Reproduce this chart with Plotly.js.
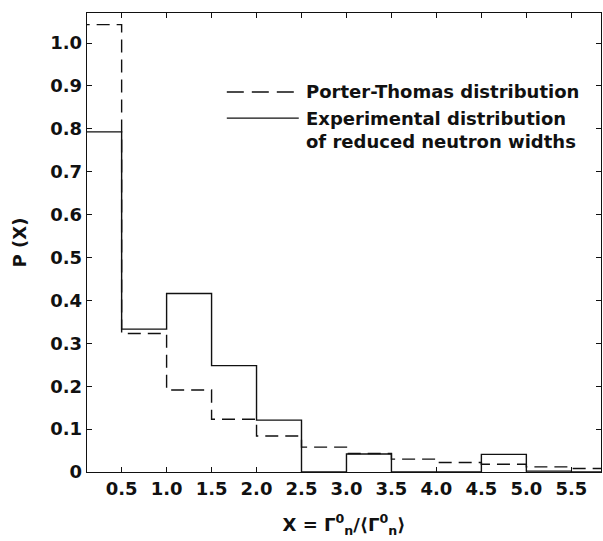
<!DOCTYPE html>
<html>
<head>
<meta charset="utf-8">
<script src="https://cdn.plot.ly/plotly-3.0.1.min.js"></script>
<style>html,body{margin:0;padding:0;background:#fff;}#chart{width:603px;height:541px;}</style>
</head>
<body>
<div id="chart"></div>
<script>
// Bin edges (X) and histogram values P(X)
var binEdges = [0, 0.5, 1.0, 1.5, 2.0, 2.5, 3.0, 3.5, 4.0, 4.5, 5.0, 5.5, 6.0];
var porterThomas = [1.043, 0.323, 0.191, 0.123, 0.084, 0.058, 0.043, 0.030, 0.022, 0.018, 0.012, 0.008];
var experimental = [0.793, 0.333, 0.416, 0.248, 0.121, 0, 0.042, 0, 0, 0.041, 0.002, 0];
var xTickVals = [0.5, 1.0, 1.5, 2.0, 2.5, 3.0, 3.5, 4.0, 4.5, 5.0, 5.5];
var xTickText = ["0.5", "1.0", "1.5", "2.0", "2.5", "3.0", "3.5", "4.0", "4.5", "5.0", "5.5"];
var yTickVals = [0, 0.1, 0.2, 0.3, 0.4, 0.5, 0.6, 0.7, 0.8, 0.9, 1.0];
var yTickText = ["0", "0.1", "0.2", "0.3", "0.4", "0.5", "0.6", "0.7", "0.8", "0.9", "1.0"];
var legendLabels = ["Porter-Thomas distribution", "Experimental distribution", "of reduced neutron widths"];

function stepY(vals) { return vals.concat([vals[vals.length - 1]]); }

var FONT = "DejaVu Sans, Liberation Sans, Arial, sans-serif";
var F = {family: FONT, size: 18, weight: "bold", color: "#111"};

var traces = [
  {
    x: binEdges, y: stepY(porterThomas), type: "scatter", mode: "lines",
    line: {shape: "hv", color: "#111", width: 1.4, dash: "13px,7px"},
    name: legendLabels[0], showlegend: false, hoverinfo: "skip"
  },
  {
    x: binEdges, y: stepY(experimental), type: "scatter", mode: "lines",
    line: {shape: "hv", color: "#111", width: 1.4},
    name: legendLabels[1], showlegend: false, hoverinfo: "skip"
  }
];

var layout = {
  width: 603, height: 541,
  margin: {l: 87, r: 2, t: 13, b: 69},
  paper_bgcolor: "#fff", plot_bgcolor: "#fff",
  font: F,
  xaxis: {
    range: [0.115, 5.83], showgrid: false, zeroline: false,
    showline: true, linecolor: "#111", linewidth: 1.3, mirror: "ticks",
    ticks: "inside", ticklen: 5, tickcolor: "#111",
    tickvals: xTickVals, ticktext: xTickText,
    tickfont: F,
    title: {text: "X = Γ<sup>0</sup><sub>n</sub>/⟨Γ<sup>0</sup><sub>n</sub>⟩", standoff: 20, font: F}
  },
  yaxis: {
    range: [0, 1.07], showgrid: false, zeroline: false,
    showline: true, linecolor: "#111", linewidth: 1.3, mirror: "ticks",
    ticks: "inside", ticklen: 5, tickcolor: "#111",
    tickvals: yTickVals, ticktext: yTickText,
    tickfont: F,
    title: {text: "P (X)", standoff: 19, font: F}
  },
  shapes: [
    {type: "line", xref: "paper", yref: "paper", x0: 0.272, x1: 0.412, y0: 0.828, y1: 0.828,
     line: {color: "#111", width: 1.4, dash: "17px,8px"}},
    {type: "line", xref: "paper", yref: "paper", x0: 0.272, x1: 0.412, y0: 0.771, y1: 0.771,
     line: {color: "#111", width: 1.4}}
  ],
  annotations: [
    {xref: "paper", yref: "paper", x: 0.422, y: 0.828, xanchor: "left", yanchor: "middle",
     text: legendLabels[0], showarrow: false, font: F},
    {xref: "paper", yref: "paper", x: 0.422, y: 0.771, xanchor: "left", yanchor: "middle",
     text: legendLabels[1], showarrow: false, font: F},
    {xref: "paper", yref: "paper", x: 0.422, y: 0.719, xanchor: "left", yanchor: "middle",
     text: legendLabels[2], showarrow: false, font: F}
  ]
};

Plotly.newPlot("chart", traces, layout, {staticPlot: true, displayModeBar: false});
</script>
</body>
</html>
